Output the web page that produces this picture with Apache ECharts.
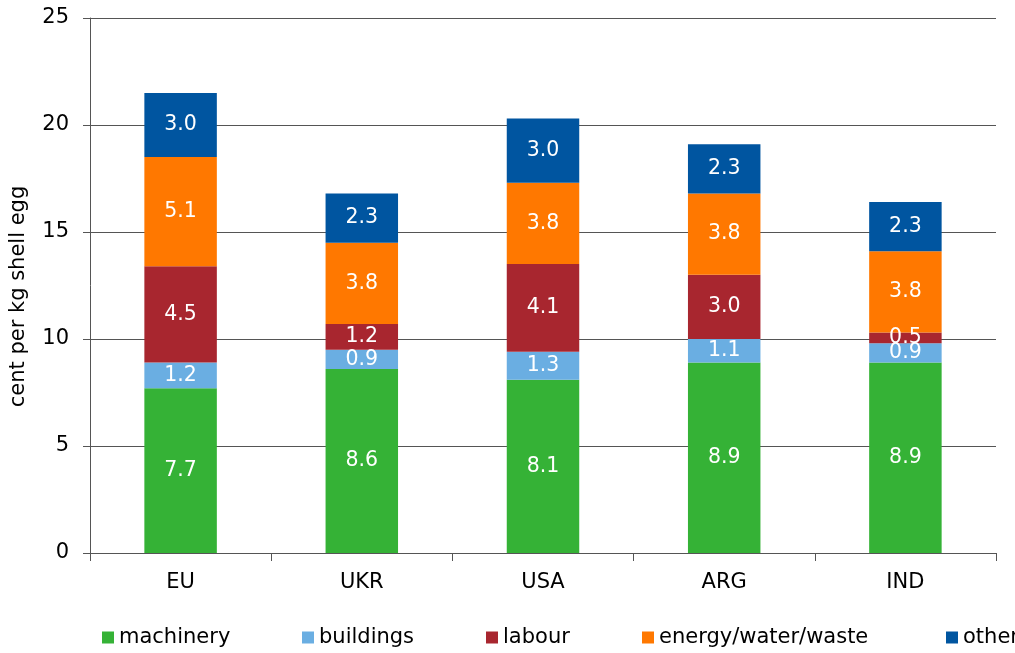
<!DOCTYPE html>
<html>
<head>
<meta charset="utf-8">
<script src="https://cdn.jsdelivr.net/npm/echarts@6/dist/echarts.min.js"></script>
<style>
  html, body { margin: 0; padding: 0; background: #fff; overflow: hidden; }
  #chart { width: 1015px; height: 653px; }
</style>
</head>
<body>
<div id="chart"></div>
<script>
// Cost components of shell egg production, cent per kg
const categories = ['EU', 'UKR', 'USA', 'ARG', 'IND'];
const machinery = [7.7, 8.6, 8.1, 8.9, 8.9];
const buildings = [1.2, 0.9, 1.3, 1.1, 0.9];
const labour = [4.5, 1.2, 4.1, 3.0, 0.5];
const energy = [5.1, 3.8, 3.8, 3.8, 3.8];
const other = [3.0, 2.3, 3.0, 2.3, 2.3];
const yTicks = [0, 5, 10, 15, 20, 25];

const FONT = 'DejaVu Sans';

const seriesDefs = [
  { name: 'machinery', data: machinery, color: '#35b236', legendLeft: 102 },
  { name: 'buildings', data: buildings, color: '#6aaee2', legendLeft: 302 },
  { name: 'labour', data: labour, color: '#a8262f', legendLeft: 486 },
  { name: 'energy/water/waste', data: energy, color: '#ff7800', legendLeft: 642 },
  { name: 'other', data: other, color: '#0055a0', legendLeft: 946 }
];

const chart = echarts.init(document.getElementById('chart'), null, { renderer: 'canvas' });

chart.setOption({
  animation: false,
  backgroundColor: '#ffffff',
  textStyle: { fontFamily: FONT },
  grid: { left: 88, right: 19, top: 18, bottom: 100, containLabel: false },
  legend: seriesDefs.map(s => ({
    data: [s.name],
    left: s.legendLeft,
    top: 627,
    itemWidth: 12,
    itemHeight: 12,
    itemGap: 0,
    icon: 'rect',
    textStyle: { fontFamily: FONT, fontSize: 21, color: '#000' },
    padding: 0,
    selectedMode: false
  })),
  xAxis: {
    type: 'category',
    data: categories,
    axisLine: { lineStyle: { color: '#555', width: 1 } },
    axisTick: { show: true, length: 8, lineStyle: { color: '#555' } },
    axisLabel: { color: '#000', fontSize: 21, fontFamily: FONT, margin: 19 }
  },
  yAxis: {
    type: 'value',
    min: yTicks[0],
    max: yTicks[yTicks.length - 1],
    interval: 5,
    name: 'cent per kg shell egg',
    nameLocation: 'middle',
    nameGap: 61,
    nameTextStyle: { color: '#000', fontSize: 21, fontFamily: FONT, padding: [0, 22, 0, 0] },
    axisLine: { show: true, lineStyle: { color: '#555', width: 1 } },
    axisTick: { show: true, length: 7, lineStyle: { color: '#555' } },
    axisLabel: { color: '#000', fontSize: 21, fontFamily: FONT, margin: 21 },
    splitLine: { show: true, lineStyle: { color: '#555', width: 1 } }
  },
  series: seriesDefs.map(s => ({
    name: s.name,
    type: 'bar',
    stack: 'cost',
    data: s.data,
    barWidth: '40%',
    itemStyle: { color: s.color },
    label: {
      show: true,
      position: 'inside',
      color: '#fff',
      fontSize: 20.5,
      fontFamily: FONT,
      formatter: p => p.value.toFixed(1)
    }
  }))
});
</script>
</body>
</html>
